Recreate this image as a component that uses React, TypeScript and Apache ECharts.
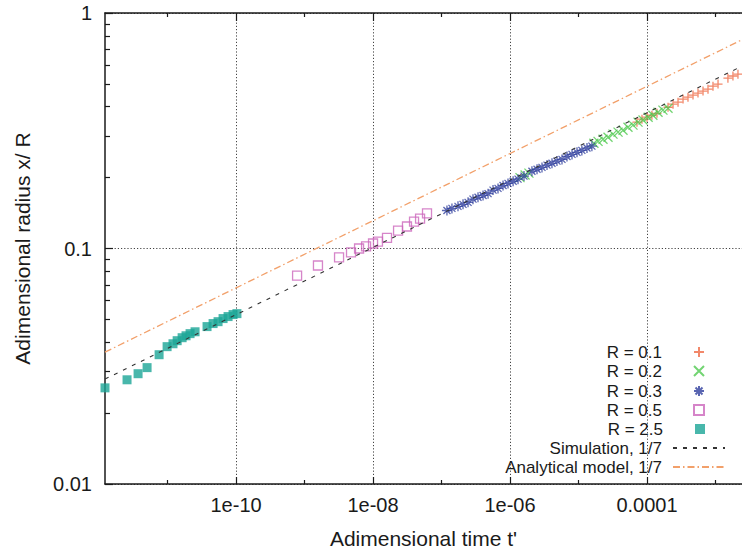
import React, { useEffect, useRef } from "react";
import * as echarts from "echarts";

// ---- data ----
const r01T = [7.14e-5, 8.45e-5, 1.0e-4, 1.18e-4, 1.4e-4, 2.03e-4, 2.4e-4, 2.84e-4, 3.36e-4, 3.97e-4, 4.7e-4, 5.56e-4, 6.58e-4, 7.78e-4, 9.2e-4, 1.09e-3, 1.52e-3, 1.8e-3, 2.13e-3];
const r01R = [0.344, 0.354, 0.361, 0.368, 0.375, 0.398, 0.41, 0.418, 0.431, 0.439, 0.448, 0.457, 0.466, 0.475, 0.489, 0.499, 0.529, 0.54, 0.55];

const r02T = [1.4e-6, 1.66e-6, 1.89e-6, 1.68e-5, 1.93e-5, 2.28e-5, 2.7e-5, 3.19e-5, 3.78e-5, 4.47e-5, 5.28e-5, 6.25e-5, 7.4e-5, 8.75e-5, 1.04e-4, 1.22e-4, 1.45e-4, 1.71e-4, 2.03e-4];
const r02R = [0.2, 0.205, 0.209, 0.28, 0.285, 0.291, 0.297, 0.306, 0.312, 0.318, 0.327, 0.334, 0.344, 0.351, 0.361, 0.368, 0.379, 0.387, 0.394];

const r03T = [1.2e-7, 1.42e-7, 1.74e-7, 2.06e-7, 2.44e-7, 2.88e-7, 3.41e-7, 4.04e-7, 4.78e-7, 5.65e-7, 6.68e-7, 7.91e-7, 9.35e-7, 1.11e-6, 1.31e-6, 1.6e-6, 2.09e-6, 2.48e-6, 2.93e-6, 3.47e-6, 4.1e-6, 4.85e-6, 5.74e-6, 6.79e-6, 8.04e-6, 9.51e-6, 1.12e-5, 1.33e-5, 1.57e-5];
const r03R = [0.145, 0.148, 0.151, 0.154, 0.157, 0.162, 0.165, 0.168, 0.171, 0.177, 0.18, 0.185, 0.189, 0.193, 0.197, 0.203, 0.213, 0.217, 0.221, 0.226, 0.23, 0.235, 0.239, 0.246, 0.251, 0.256, 0.261, 0.267, 0.272];

const r05T = [7.78e-10, 1.57e-9, 3.19e-9, 4.77e-9, 6.25e-9, 7.91e-9, 1.0e-8, 1.18e-8, 1.6e-8, 2.32e-8, 3.13e-8, 3.97e-8, 4.86e-8, 6.14e-8];
const r05R = [0.0767, 0.0847, 0.0916, 0.0962, 0.1, 0.102, 0.105, 0.107, 0.111, 0.119, 0.124, 0.13, 0.134, 0.141];

const r25T = [1.22e-12, 2.56e-12, 3.71e-12, 5.02e-12, 7.52e-12, 9.84e-12, 1.2e-11, 1.38e-11, 1.63e-11, 1.86e-11, 2.13e-11, 2.52e-11, 3.77e-11, 4.62e-11, 5.46e-11, 6.46e-11, 7.64e-11, 9.04e-11, 1.03e-10];
const r25R = [0.0256, 0.0277, 0.0294, 0.0312, 0.0354, 0.0383, 0.0394, 0.0406, 0.0418, 0.0426, 0.0435, 0.0443, 0.0466, 0.048, 0.0489, 0.0504, 0.0514, 0.0524, 0.0529];

// fitted power laws (1/7), end points
const simT = [1.22e-12, 2.44e-3];
const simR = [0.0279, 0.595];
const anaT = [1.22e-12, 2.44e-3];
const anaR = [0.0363, 0.77];

// axes
const X_MIN = 1.22e-12;
const X_MAX = 2.44e-3;
const Y_MIN = 0.01;
const Y_MAX = 1;
const xMajorTicks = [1e-10, 1e-8, 1e-6, 1e-4];
const xTickLabels = ["1e-10", "1e-08", "1e-06", "0.0001"];
const xMinorTicks = [1e-11, 1e-9, 1e-7, 1e-5, 1e-3];
const yMajorTicks = [0.01, 0.1, 1];
const yTickLabels = ["0.01", "0.1", "1"];
const yMinorTicks = [0.02, 0.03, 0.04, 0.05, 0.06, 0.07, 0.08, 0.09, 0.2, 0.3, 0.4, 0.5, 0.6, 0.7, 0.8, 0.9];

const seriesNames = ["R = 0.1", "R = 0.2", "R = 0.3", "R = 0.5", "R = 2.5", "Simulation, 1/7", "Analytical model, 1/7"];
const legendRowCenters = [352, 371, 391, 410, 429, 448, 467];

const FONT = "'Liberation Sans', Arial, Helvetica, sans-serif";
const INK = "#1a1a1a";
const SQUARE = "path://M0,0L10,0L10,10L0,10Z";

const pairs = (T: number[], R: number[]) => T.map((t, i) => [t, R[i]]);
const pickLabel = (v: number, ticks: number[], labels: string[]) => {
  const i = ticks.findIndex((t) => Math.abs(Math.log10(t) - Math.log10(v)) < 1e-6);
  return i >= 0 ? labels[i] : "";
};

export default function App() {
  const ref = useRef<HTMLDivElement>(null);
  useEffect(() => {
    if (!ref.current) return;
    const chart = echarts.init(ref.current, undefined, { renderer: "svg" });
    const axisLine = { show: true, onZero: false, lineStyle: { color: INK, width: 1.5 } };
    const tickLine = { color: INK, width: 1.2 };
    const gridLine = { show: true, lineStyle: { color: "#444", width: 1, type: [1.2, 2] } };
    const baseX = { type: "log", logBase: 10, min: X_MIN, max: X_MAX };
    const baseY = { type: "log", logBase: 10, min: Y_MIN, max: Y_MAX };

    const option: any = {
      animation: false,
      backgroundColor: "#fff",
      grid: { left: 105, right: 0, top: 13, bottom: 72, containLabel: false, outerBoundsMode: "none" },
      xAxis: [
        {
          ...baseX,
          position: "bottom",
          axisLine,
          axisTick: { show: true, inside: true, length: 7, customValues: xMajorTicks, lineStyle: tickLine },
          axisLabel: {
            customValues: xMajorTicks,
            formatter: (v: number) => pickLabel(v, xMajorTicks, xTickLabels),
            fontSize: 20,
            color: INK,
            fontFamily: FONT,
            margin: 11,
          },
          splitLine: gridLine,
          name: "Adimensional time t'",
          nameLocation: "middle",
          nameGap: 44,
          nameTextStyle: { fontSize: 21, color: INK, fontFamily: FONT },
        },
        {
          ...baseX,
          position: "bottom",
          axisLine: { show: false },
          axisTick: { show: true, inside: true, length: 4, customValues: xMinorTicks, lineStyle: tickLine },
          axisLabel: { show: false },
          splitLine: { show: false },
        },
        {
          ...baseX,
          position: "top",
          axisLine,
          axisTick: { show: true, inside: true, length: 8, customValues: xMajorTicks, lineStyle: tickLine },
          axisLabel: { show: false },
          splitLine: { show: false },
        },
        {
          ...baseX,
          position: "top",
          axisLine: { show: false },
          axisTick: { show: true, inside: true, length: 4, customValues: xMinorTicks, lineStyle: tickLine },
          axisLabel: { show: false },
          splitLine: { show: false },
        },
      ],
      yAxis: [
        {
          ...baseY,
          position: "left",
          axisLine,
          axisTick: { show: true, inside: true, length: 8, customValues: yMajorTicks, lineStyle: tickLine },
          axisLabel: {
            customValues: yMajorTicks,
            formatter: (v: number) => pickLabel(v, yMajorTicks, yTickLabels),
            fontSize: 20,
            color: INK,
            fontFamily: FONT,
            margin: 13,
          },
          splitLine: gridLine,
          name: "Adimensional radius x/ R",
          nameLocation: "middle",
          nameGap: 72,
          nameTextStyle: { fontSize: 21, color: INK, fontFamily: FONT },
        },
        {
          ...baseY,
          position: "left",
          axisLine: { show: false },
          axisTick: { show: true, inside: true, length: 5, customValues: yMinorTicks, lineStyle: tickLine },
          axisLabel: { show: false },
          splitLine: { show: false },
        },
      ],
      legend: seriesNames.map((n, i) => {
        const isLine = i >= 5;
        return {
          data: [isLine ? { name: n, itemStyle: { opacity: 0 } } : { name: n }],
          right: isLine ? 16 : 37,
          top: legendRowCenters[i] - 9,
          orient: "horizontal",
          align: "right",
          itemWidth: 52,
          itemHeight: 10,
          itemGap: 0,
          padding: 0,
          symbolKeepAspect: true,
          selectedMode: false,
          textStyle: { fontSize: 17, lineHeight: 18, color: INK, fontFamily: FONT, padding: [0, 6, 0, 0] },
        };
      }),
      series: [
        {
          name: seriesNames[0],
          type: "scatter",
          clip: false,
          symbol: "path://M5,0L5,10M0,5L10,5",
          symbolSize: 9,
          itemStyle: { color: "rgba(0,0,0,0)", borderColor: "#ef6a45", borderWidth: 1.3 },
          data: pairs(r01T, r01R),
        },
        {
          name: seriesNames[1],
          type: "scatter",
          clip: false,
          symbol: "path://M0,0L10,10M10,0L0,10",
          symbolSize: 9,
          itemStyle: { color: "rgba(0,0,0,0)", borderColor: "#4fc94f", borderWidth: 1.3 },
          data: pairs(r02T, r02R),
        },
        {
          name: seriesNames[2],
          type: "scatter",
          clip: false,
          symbol: "path://M5,0L5,10M0,5L10,5M1.5,1.5L8.5,8.5M8.5,1.5L1.5,8.5",
          symbolSize: 10,
          itemStyle: { color: "rgba(0,0,0,0)", borderColor: "#2f3f9e", borderWidth: 1.3 },
          data: pairs(r03T, r03R),
        },
        {
          name: seriesNames[3],
          type: "scatter",
          clip: false,
          symbol: SQUARE,
          symbolSize: 9,
          itemStyle: { color: "rgba(0,0,0,0)", borderColor: "#cc66bb", borderWidth: 1.3 },
          data: pairs(r05T, r05R),
        },
        {
          name: seriesNames[4],
          type: "scatter",
          clip: false,
          symbol: SQUARE,
          symbolSize: 9,
          itemStyle: { color: "#1aa596" },
          data: pairs(r25T, r25R),
        },
        {
          name: seriesNames[5],
          type: "line",
          symbol: "none",
          silent: true,
          lineStyle: { color: "#333", width: 1.1, type: [4, 6] },
          itemStyle: { color: "#333" },
          data: pairs(simT, simR),
        },
        {
          name: seriesNames[6],
          type: "line",
          symbol: "none",
          silent: true,
          lineStyle: { color: "#f2a06a", width: 1.3, type: [7, 3, 1.5, 3] },
          itemStyle: { color: "#f2a06a" },
          data: pairs(anaT, anaR),
        },
      ],
    };
    chart.setOption(option);
    return () => chart.dispose();
  }, []);
  return (
    <div
      ref={ref}
      style={{ position: "fixed", left: 0, top: 0, width: 742, height: 556, background: "#fff" }}
    />
  );
}
